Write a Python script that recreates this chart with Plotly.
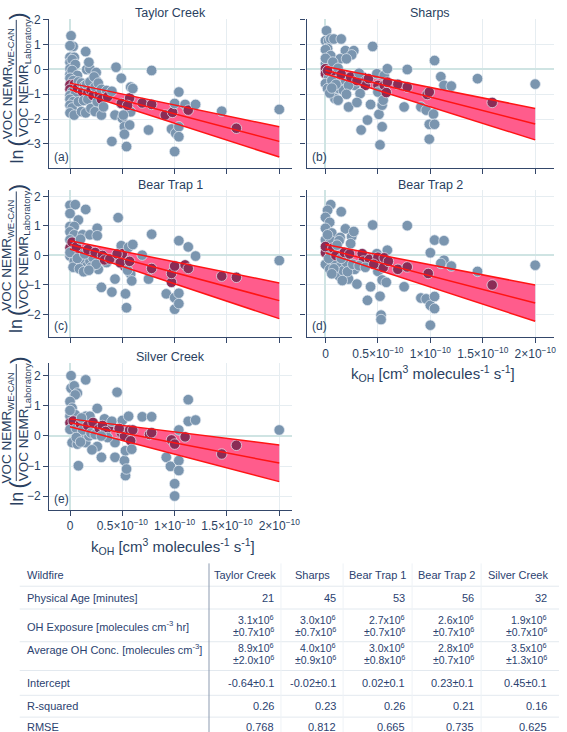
import numpy as np
import plotly.graph_objects as go

W, H = 567, 732

# ---------------- data ----------------
panel_names = ["Taylor Creek", "Sharps", "Bear Trap 1", "Bear Trap 2", "Silver Creek"]
panel_tags = ["(a)", "(b)", "(c)", "(d)", "(e)"]

# kOH in units of 1e-10 cm3 molecules-1 s-1 ; y = ln(NEMR ratio)
a_x = [0.01,0.03,0.00,0.15,0.00,0.04,0.00,0.02,0.00,0.05,0.00,0.02,0.07,0.00,0.03,0.00,0.04,0.00,0.02,0.00,
       0.05,0.00,0.03,0.00,0.02,0.00,0.04,0.08,0.07,0.08,0.11,0.16,0.19,0.18,0.25,0.25,0.11,0.12,0.13,0.14,
       0.16,0.17,0.17,0.15,0.19,0.20,0.20,0.22,0.23,0.24,0.24,0.26,0.27,0.28,0.30,0.30,0.30,0.32,0.35,0.36,
       0.44,0.49,0.58,0.40,0.43,0.40,0.49,0.50,0.52,0.52,0.54,0.57,0.60,0.58,0.57,0.51,0.55,0.69,0.78,0.78,
       0.75,0.91,0.98,1.00,1.00,0.97,1.01,1.04,1.04,1.04,1.10,1.13,1.20,1.45,1.59,2.00]
a_y = [1.36,0.93,0.96,0.72,0.49,0.49,0.29,0.40,0.03,0.20,-0.20,-0.04,-0.24,-0.35,-0.45,-0.62,-0.60,-0.80,-0.90,-1.05,
       -1.00,-1.20,-1.30,-1.44,-1.55,-1.75,-1.84,-0.50,-0.75,-1.30,-1.70,0.00,0.03,0.29,-0.12,-0.44,-0.55,-0.90,-1.25,-0.65,
       -0.60,-0.95,-1.20,-1.75,-0.50,-0.85,-1.57,-1.05,-0.30,-0.70,-1.70,-1.30,-0.55,-1.00,-0.80,-1.20,-1.84,-1.51,-0.85,-1.10,
       0.09,-0.35,-0.71,-0.88,-1.84,-2.90,-1.37,-1.97,-2.31,-2.61,-3.11,-1.15,-0.77,-1.71,-2.24,-1.84,-1.45,-1.35,-0.04,-1.41,
       -2.44,-1.84,-1.73,-1.37,-3.31,-2.40,-2.57,-0.91,-2.31,-2.71,-1.41,-1.64,-1.41,-1.68,-2.37,-1.61]

b_x = [0.01,0.00,0.03,0.05,0.08,0.15,0.02,0.00,0.05,0.19,0.27,0.25,0.14,0.20,0.45,0.00,0.05,0.00,0.00,0.03,
       0.00,0.02,0.10,0.11,0.17,0.19,0.28,0.36,0.38,0.41,0.33,0.08,0.09,0.12,0.13,0.17,0.22,0.22,0.30,0.34,
       0.40,0.43,0.49,0.50,0.50,0.51,0.52,0.54,0.54,0.55,0.56,0.56,0.58,0.59,0.59,0.69,0.75,0.78,0.78,0.91,
       0.96,0.97,0.99,0.99,0.99,1.03,1.04,1.04,1.10,1.13,1.20,1.45,1.59,2.00,0.00,0.02,0.06,0.04,0.07,0.12,
       0.10,0.15,0.24,0.30,0.32,0.06,0.20]
b_y = [1.56,1.16,1.16,1.23,1.23,1.23,0.85,0.80,0.56,0.76,0.76,0.59,0.43,0.43,0.93,0.23,0.16,0.03,-0.17,-0.31,
       -0.57,-0.77,-0.17,-0.44,-0.31,-0.51,-0.64,-0.31,-0.64,-0.37,-0.97,-1.04,-1.17,-1.24,-0.77,-0.84,-0.64,-1.51,-1.33,-2.44,
       -2.04,-1.41,-0.17,-0.64,-0.91,-1.81,-3.04,-2.31,-1.44,-1.24,-0.24,-0.64,-0.93,0.03,-0.51,-0.60,-1.51,-0.71,0.00,-1.51,
       -1.64,-1.01,-0.91,-2.21,-2.81,-1.80,-2.21,0.36,-0.29,-0.64,-0.67,-0.37,-1.33,-0.59,0.45,-0.05,-0.45,-0.95,0.30,0.05,
       -0.60,-0.20,-0.30,-0.45,-0.15,-0.75,-1.00]

c_x = [0.00,0.05,0.00,0.15,0.08,0.00,0.04,0.00,0.04,0.00,0.12,0.19,0.26,0.26,0.46,0.78,1.04,1.13,1.20,2.00,
       0.00,0.00,0.04,0.08,0.12,0.16,0.19,0.22,0.27,0.30,0.35,0.40,0.43,0.49,0.50,0.52,0.53,0.54,0.56,0.58,
       0.59,0.60,0.55,0.69,0.75,0.78,0.92,0.97,0.97,1.00,1.00,1.00,1.04,1.04,1.10,1.13,1.45,1.59,0.00,0.02,
       0.03,0.06,0.07,0.10,0.09,0.14,0.17,0.20,0.24,0.25,0.31,0.33,0.13,0.18,0.38,0.45,0.48,0.57]
c_y = [1.70,1.72,1.42,1.56,1.20,0.98,0.98,0.80,0.70,0.53,0.70,0.70,0.92,0.67,1.28,0.72,0.50,0.29,-0.02,-0.17,
       0.26,-0.02,-0.19,0.14,-0.24,-0.36,-0.19,-0.08,-0.47,-1.08,-0.24,-1.24,-0.80,0.33,0.06,-0.36,-1.30,-1.77,0.28,-0.63,
       -0.86,0.37,-0.50,0.01,-0.80,-0.44,-1.30,-0.91,-0.61,-0.36,-1.43,-1.82,-1.28,-1.63,-0.32,-0.44,-0.70,-0.74,0.10,0.45,
       -0.40,0.30,-0.10,0.55,-0.45,0.05,0.20,-0.40,0.10,-0.30,0.00,-0.15,-0.55,-0.50,-0.12,0.05,-0.25,-0.20]

d_x = [0.05,0.02,0.00,0.04,0.15,0.00,0.19,0.06,0.14,0.00,0.05,0.13,0.25,0.27,0.24,0.45,0.78,1.04,1.13,1.00,
       1.13,1.10,1.20,1.45,1.59,2.00,0.00,0.05,0.00,0.04,0.09,0.13,0.13,0.17,0.20,0.22,0.28,0.30,0.35,0.36,
       0.42,0.43,0.40,0.49,0.50,0.50,0.52,0.53,0.53,0.54,0.55,0.58,0.59,0.56,0.69,0.75,0.78,0.91,0.96,0.98,
       1.00,1.00,1.04,1.04,0.00,0.02,0.03,0.07,0.08,0.10,0.11,0.15,0.18,0.21,0.23,0.26,0.32,0.06,0.16,0.38,
       0.46,0.60]
d_y = [1.72,1.53,1.29,1.12,1.48,0.92,0.90,0.76,0.61,0.53,0.50,0.50,0.64,0.81,0.40,1.03,1.01,0.52,0.50,0.09,
       -0.16,-0.27,-0.36,-0.54,-1.00,-0.33,0.09,0.03,-0.30,-0.47,-0.19,-0.41,-0.69,-0.52,-0.24,-0.80,-0.47,-0.97,0.06,-0.19,
       -0.13,-1.06,-1.52,0.06,-0.06,-0.54,-1.38,-2.02,-2.17,-0.83,-0.41,-0.91,0.18,-0.08,-0.47,-1.06,-0.39,-1.44,-1.47,-0.61,
       -1.69,-2.36,-1.80,-1.39,0.30,0.70,-0.10,0.25,-0.45,0.00,0.35,-0.10,0.10,-0.55,0.05,-0.30,-0.35,-0.62,-0.85,-0.40,
       -0.30,-0.20]

e_x = [0.01,0.01,0.04,0.07,0.05,0.15,0.00,0.02,0.00,0.05,0.15,0.19,0.26,0.00,0.04,0.00,0.09,0.13,0.02,0.07,
       0.15,0.18,0.23,0.26,0.21,0.30,0.33,0.37,0.40,0.43,0.43,0.45,0.50,0.49,0.52,0.52,0.53,0.54,0.53,0.56,
       0.57,0.58,0.59,0.60,0.69,0.76,0.78,0.78,0.92,0.96,0.97,1.00,1.00,1.00,1.04,1.04,1.04,1.10,1.13,1.13,
       1.20,1.45,1.59,2.00,0.08,0.00,0.03,0.06,0.10,0.11,0.12,0.17,0.20,0.22,0.24,0.28,0.31,0.34,0.36,0.06,
       0.10,0.30,0.47]
e_y = [2.01,1.59,1.67,1.43,1.37,1.87,1.15,0.93,0.66,0.71,0.66,0.66,0.92,0.44,0.33,0.22,0.11,-0.11,-0.22,-0.27,
       -0.22,0.00,0.22,-0.35,-0.46,-0.71,0.57,0.30,0.49,-0.22,-0.71,1.46,0.52,0.11,0.00,-0.82,-1.32,-1.10,-0.49,0.66,
       0.20,-0.16,-0.44,0.20,0.64,0.05,0.64,0.11,-0.71,-1.01,-0.13,-0.27,-1.59,-2.00,0.20,-0.82,-1.15,-0.03,0.49,1.21,
       0.53,-0.60,-0.31,0.20,-0.99,0.85,0.50,0.25,0.40,0.60,0.20,0.35,0.10,0.45,0.05,0.25,0.35,0.15,-0.05,-0.05,
       -0.20,0.00,0.25]

# regression line and confidence band read at kOH = 0 and 2e-10
fit_x = [0.0, 2.0]
fit_mid = [[-0.68, -2.90], [-0.03, -2.20], [0.37, -1.53], [0.23, -1.61], [0.44, -0.90]]
fit_hi = [[-0.55, -2.31], [0.12, -1.57], [0.50, -0.93], [0.37, -1.00], [0.57, -0.30]]
fit_lo = [[-0.81, -3.53], [-0.17, -2.84], [0.22, -2.14], [0.09, -2.23], [0.31, -1.52]]

x_tickvals = [0, 0.5, 1, 1.5, 2]
x_ticktext = ["0", "0.5×10<sup>−10</sup>", "1×10<sup>−10</sup>", "1.5×10<sup>−10</sup>", "2×10<sup>−10</sup>"]

# table
table_cols = ["Taylor Creek", "Sharps", "Bear Trap 1", "Bear Trap 2", "Silver Creek"]
physical_age = ["21", "45", "53", "56", "32"]
oh_exposure = ["3.1", "3.0", "2.7", "2.6", "1.9"]
oh_exposure_err = ["0.7", "0.7", "0.7", "0.7", "0.7"]
avg_oh = ["8.9", "4.0", "3.0", "2.8", "3.5"]
avg_oh_err = ["2.0", "0.9", "0.8", "0.7", "1.3"]
intercept = ["-0.64±0.1", "-0.02±0.1", "0.02±0.1", "0.23±0.1", "0.45±0.1"]
r_squared = ["0.26", "0.23", "0.26", "0.21", "0.16"]
rmse = ["0.768", "0.812", "0.665", "0.735", "0.625"]

# ---------------- layout helpers ----------------
FONT = "Liberation Sans, Arial, Helvetica, sans-serif"
TXT = "#2a3f5f"
TBL = "#2b4270"

def fx(p):
    return p / W

def fy(p):
    return 1 - p / H

# px boxes: (left, right, top, bottom), y ranges
boxes = [(50, 296, 13, 163), (311, 562, 13, 163),
         (50, 296, 186, 334), (311, 562, 186, 334),
         (50, 296, 360, 508)]
xranges = [[-0.198, 2.12], [-0.18, 2.18], [-0.198, 2.12], [-0.18, 2.18], [-0.198, 2.12]]
yranges = [[-3.96, 2.04], [-3.96, 2.04], [-2.77, 2.2], [-2.77, 2.2], [-2.46, 2.43]]
show_xlabels = [False, False, False, True, True]
show_ylabels = [True, False, True, False, True]

xs_all = [a_x, b_x, c_x, d_x, e_x]
ys_all = [a_y, b_y, c_y, d_y, e_y]

GRAY = "rgb(122,149,175)"
DARK = "rgb(138,44,86)"
PINK = "rgb(255,92,140)"
RED = "rgb(255,20,20)"

fig = go.Figure()
layout = dict(width=W, height=H, margin=dict(l=0, r=0, t=0, b=0),
              paper_bgcolor="white", plot_bgcolor="white", showlegend=False,
              font=dict(family=FONT, color=TXT, size=12))
annotations = []
shapes = []

def ann(text, x, y, size, angle=0, xanchor="center", color=TXT):
    annotations.append(dict(text=text, x=fx(x), y=fy(y), xref="paper", yref="paper",
                            textangle=angle, showarrow=False, xanchor=xanchor, yanchor="middle",
                            font=dict(size=size, color=color, family=FONT)))

for i in range(5):
    n = "" if i == 0 else str(i + 1)
    xa, ya = "x" + n, "y" + n
    l, r, t, b = boxes[i]
    axis_common = dict(showgrid=True, gridcolor="#e6edf1", gridwidth=1,
                       zeroline=True, zerolinecolor="#cfe4e3", zerolinewidth=2,
                       showline=True, linecolor="#34476a", linewidth=1.3,
                       ticks="outside", ticklen=5, tickcolor="#34476a", tickwidth=1,
                       tickfont=dict(size=12, color=TXT, family=FONT))
    layout["xaxis" + n] = dict(domain=[fx(l), fx(r)], range=xranges[i], anchor=ya,
                               tickvals=x_tickvals, ticktext=x_ticktext,
                               showticklabels=show_xlabels[i], **axis_common)
    layout["yaxis" + n] = dict(domain=[fy(b), fy(t)], range=yranges[i], anchor=xa,
                               dtick=1, tick0=0, showticklabels=show_ylabels[i], **axis_common)
    # confidence band
    bx = fit_x + fit_x[::-1]
    by = fit_hi[i] + fit_lo[i][::-1]
    fig.add_trace(go.Scatter(x=bx, y=by, xaxis=xa, yaxis=ya, mode="lines", fill="toself",
                             fillcolor=PINK, line=dict(width=0), hoverinfo="skip"))
    # points (those seen through the band appear darker)
    px_ = np.array(xs_all[i]); py_ = np.array(ys_all[i])
    hi = np.interp(px_, fit_x, fit_hi[i]); lo = np.interp(px_, fit_x, fit_lo[i])
    inside = (py_ <= hi) & (py_ >= lo)
    cols = np.where(inside, DARK, GRAY)
    fig.add_trace(go.Scatter(x=px_, y=py_, xaxis=xa, yaxis=ya, mode="markers",
                             marker=dict(size=10.5, color=list(cols),
                                         line=dict(width=0.8, color="rgba(225,232,240,0.9)"))))
    for arr in (fit_hi[i], fit_mid[i], fit_lo[i]):
        fig.add_trace(go.Scatter(x=fit_x, y=arr, xaxis=xa, yaxis=ya, mode="lines",
                                 line=dict(color=RED, width=1.5)))
    ann(panel_names[i], (l + r) / 2, t - 6, 12.5)
    ann(panel_tags[i], l + 3, b - 11, 12, xanchor="left")
    if show_xlabels[i]:
        ann("k<sub>OH</sub> [cm<sup>3</sup> molecules<sup>-1</sup> s<sup>-1</sup>]",
            l + (r - l) * 0.51, b + 37, 15)
    if show_ylabels[i]:
        cy = t + 60
        ann("VOC NEMR<sub>WE-CAN</sub>", 8, cy + 5, 13.5, angle=-90)
        ann("VOC NEMR<sub>Laboratory</sub>", 25, cy, 13.5, angle=-90)
        shapes.append(dict(type="line", xref="paper", yref="paper", x0=fx(16.5), x1=fx(16.5),
                           y0=fy(cy - 59), y1=fy(cy + 59), line=dict(color=TXT, width=1)))
        ann("ln", 17, b - 11, 18, angle=-90)
        ann("(", 17, b - 25, 24, angle=-90)
        ann(")", 18, t - 3, 22, angle=-90)

# ---------------- table ----------------
col_edges = [212, 285, 348, 418, 488, 562]
label_x = 25
row_hlines = [585, 608, 641, 670, 695, 717]
for yv in row_hlines:
    shapes.append(dict(type="line", xref="paper", yref="paper", x0=fx(20), x1=fx(567),
                       y0=fy(yv), y1=fy(yv), line=dict(color="#e3e9ef", width=1)))
for xv in col_edges[1:-1]:
    shapes.append(dict(type="line", xref="paper", yref="paper", x0=fx(xv), x1=fx(xv),
                       y0=fy(562), y1=fy(732), line=dict(color="#eef2f6", width=1)))
shapes.append(dict(type="line", xref="paper", yref="paper", x0=fx(212), x1=fx(212),
                   y0=fy(562), y1=fy(732), line=dict(color="#8d9bb0", width=1)))

def tlabel(text, y):
    ann(text, label_x, y, 11, xanchor="left", color=TBL)

def tval(text, j, y, size=11):
    ann(text, col_edges[j + 1] - 5, y, size, xanchor="right", color=TBL)

tlabel("Wildfire", 574)
for j, c in enumerate(table_cols):
    ann(c, (col_edges[j] + col_edges[j + 1]) / 2, 574, 11, color=TBL)
tlabel("Physical Age [minutes]", 596.5)
tlabel("OH Exposure [molecules cm<sup>-3</sup> hr]", 625)
tlabel("Average OH Conc. [molecules cm<sup>-3</sup>]", 648)
tlabel("Intercept", 683)
tlabel("R-squared", 705.5)
tlabel("RMSE", 727)
for j in range(5):
    tval(physical_age[j], j, 596.5)
    tval(oh_exposure[j] + "x10<sup>6</sup>", j, 619, 10.5)
    tval("±" + oh_exposure_err[j] + "x10<sup>6</sup>", j, 631, 10.5)
    tval(avg_oh[j] + "x10<sup>6</sup>", j, 647, 10.5)
    tval("±" + avg_oh_err[j] + "x10<sup>6</sup>", j, 659, 10.5)
    tval(intercept[j], j, 683)
    tval(r_squared[j], j, 705.5)
    tval(rmse[j], j, 727)

layout["annotations"] = annotations
layout["shapes"] = shapes
fig.update_layout(**layout)
fig.write_html("out.html", config={"displayModeBar": False},
               post_script="document.body.style.margin='0px';document.body.style.overflow='hidden';")
